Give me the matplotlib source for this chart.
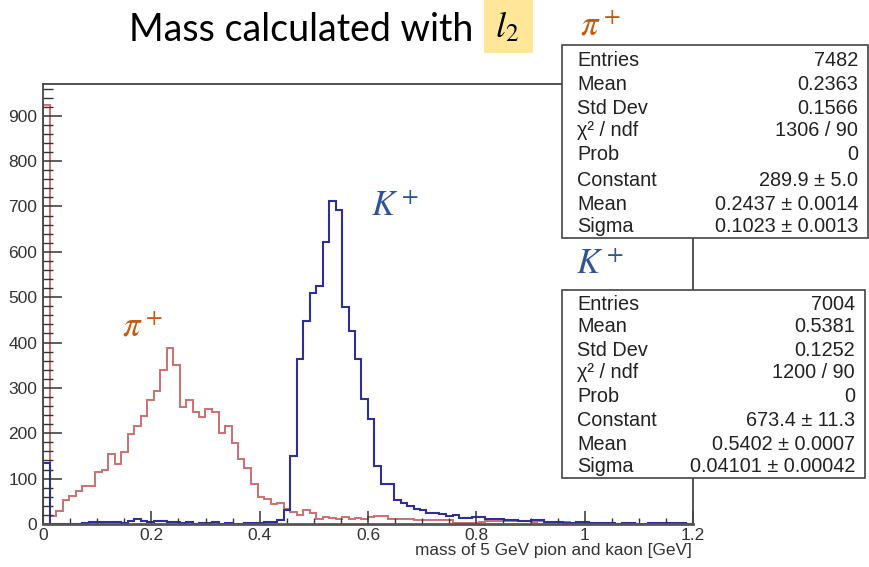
import numpy as np
import matplotlib
matplotlib.use("Agg")
import matplotlib.pyplot as plt
from matplotlib.patches import Rectangle

# ---------------- data ----------------
bin_edges_range = (0.0, 1.2)
n_bins = 100

pion_counts = [
    924, 17, 28, 54, 62, 72, 83, 83, 114, 118,
    155, 132, 158, 199, 215, 239, 274, 294, 340, 387,
    350, 259, 274, 248, 235, 253, 248, 200, 215, 178,
    144, 123, 89, 59, 55, 43, 46, 32, 27, 20,
    31, 24, 12, 15, 14, 12, 15, 12, 13, 12,
    15, 17, 17, 11, 11, 11, 10, 8, 8, 8,
    9, 9, 9, 3, 3, 3, 3, 5, 6, 6,
    6, 6, 7, 6, 6, 5, 6, 5, 4, 4,
    4, 3, 2, 2, 3, 2, 1, 1, 0, 0,
    0, 0, 0, 0, 0, 0, 0, 0, 0, 0,
]

kaon_counts = [
    134, 0, 0, 0, 0, 1, 2, 4, 5, 4,
    5, 5, 3, 7, 10, 7, 5, 7, 7, 5,
    4, 2, 4, 0, 2, 2, 4, 0, 2, 0,
    0, 2, 3, 3, 4, 5, 8, 30, 150, 364,
    447, 509, 524, 621, 712, 693, 478, 426, 364, 276,
    231, 128, 88, 88, 54, 46, 39, 32, 30, 24,
    24, 22, 18, 20, 13, 13, 15, 16, 11, 11,
    10, 8, 8, 7, 6, 9, 9, 5, 5, 4,
    3, 3, 5, 5, 3, 3, 2, 3, 0, 2,
    2, 0, 0, 2, 2, 2, 2, 2, 2, 1,
]

x_tick_values = [0, 0.2, 0.4, 0.6, 0.8, 1.0, 1.2]
x_tick_labels = ["0", "0.2", "0.4", "0.6", "0.8", "1", "1.2"]
y_tick_values = [0, 100, 200, 300, 400, 500, 600, 700, 800, 900]
y_tick_labels = ["0", "100", "200", "300", "400", "500", "600", "700", "800", "900"]
x_label = "mass of 5 GeV pion and kaon [GeV]"
title_text = "Mass calculated with"

stat_labels = ["Entries", "Mean", "Std Dev", "\u03c7\u00b2 / ndf", "Prob", "Constant", "Mean", "Sigma"]
pion_stats = ["7482", "0.2363", "0.1566", "1306 / 90", "0", "289.9 \u00b1 5.0",
              "0.2437 \u00b1 0.0014", "0.1023 \u00b1 0.0013"]
kaon_stats = ["7004", "0.5381", "0.1252", "1200 / 90", "0", "673.4 \u00b1 11.3",
              "0.5402 \u00b1 0.0007", "0.04101 \u00b1 0.00042"]

# ---------------- style ----------------
W, H = 869, 567
plt.rcParams['font.family'] = ['Liberation Sans', 'DejaVu Sans']
plt.rcParams['mathtext.fontset'] = 'stix'

fig = plt.figure(figsize=(W / 100, H / 100), dpi=100)

def fx(x):
    return x / W

def fy(y):
    return 1 - y / H

ax_l, ax_r, ax_t, ax_b = 43, 693, 84, 524
ax = fig.add_axes([fx(ax_l), fy(ax_b), (ax_r - ax_l) / W, (ax_b - ax_t) / H])

edges = np.linspace(bin_edges_range[0], bin_edges_range[1], n_bins + 1)
red = '#cf6f6f'
blue = '#2e2e9c'
ax.stairs(pion_counts, edges, color=red, lw=1.4)
ax.stairs(kaon_counts, edges, color=blue, lw=1.5)

ax.set_xlim(0, 1.2)
ax.set_ylim(0, 970)
ax.set_xticks(x_tick_values)
ax.set_xticklabels(x_tick_labels)
ax.set_yticks(y_tick_values)
ax.set_yticklabels(y_tick_labels)
ax.set_xticks(np.arange(0, 1.2001, 0.05), minor=True)
ax.set_yticks(np.arange(0, 970, 20), minor=True)

tc = '#333333'
ax.tick_params(axis='x', which='major', direction='in', length=9.5, width=1.1,
               color=tc, labelsize=12.5, labelcolor='#333333', pad=3)
ax.tick_params(axis='x', which='minor', direction='in', length=4.5, width=1.0, color=tc)
ax.tick_params(axis='y', which='major', direction='in', length=14, width=1.1,
               color=tc, labelsize=12.5, labelcolor='#333333', pad=4)
ax.tick_params(axis='y', which='minor', direction='in', length=7, width=1.0, color=tc)
for s in ax.spines.values():
    s.set_color('#444444')
    s.set_linewidth(1.3)
ax.spines['bottom'].set_color('#555555')
ax.spines['bottom'].set_linewidth(2.0)

fig.text(fx(692), fy(551), x_label, ha='right', va='center', fontsize=12.4, color='#333333')

# ---------------- title ----------------
fig.text(fx(129), fy(30), title_text, ha='left', va='center', fontsize=27,
         family=['Lato', 'DejaVu Sans'], color='black')
fig.patches.append(Rectangle((fx(484), fy(53)), (533 - 484) / W, 53 / H,
                             transform=fig.transFigure, facecolor='#FFE699',
                             edgecolor='none', zorder=1))
fig.text(fx(507), fy(28), r'$l_2$', ha='center', va='center', fontsize=26, color='black', zorder=2)

# ---------------- particle labels ----------------
orange = '#C55A11'
kblue = '#2F5597'
fig.text(fx(600), fy(26), r'$\pi^+$', ha='center', va='center', fontsize=25, color=orange)
fig.text(fx(142), fy(327), r'$\pi^+$', ha='center', va='center', fontsize=25, color=orange)
fig.text(fx(395), fy(206), r'$K^+$', ha='center', va='center', fontsize=25, color=kblue)
fig.text(fx(600), fy(264), r'$K^+$', ha='center', va='center', fontsize=25, color=kblue)

# ---------------- stat boxes ----------------
def stat_box(x0, y0, x1, y1, rows_y, values, right_x):
    fig.patches.append(Rectangle((fx(x0), fy(y1)), (x1 - x0) / W, (y1 - y0) / H,
                                 transform=fig.transFigure, facecolor='white',
                                 edgecolor='#444444', lw=1.2, zorder=5))
    for lab, val, yy in zip(stat_labels, values, rows_y):
        fig.text(fx(577), fy(yy), lab, ha='left', va='center', fontsize=14.3, color='#222222', zorder=6)
        fig.text(fx(right_x), fy(yy), val, ha='right', va='center', fontsize=14.3, color='#222222', zorder=6)

stat_box(562, 45, 868, 238, [60, 84, 108, 131, 155, 180, 204, 226], pion_stats, 858)
stat_box(562, 290, 865, 478, [304, 327, 350, 373, 396, 420, 444, 466], kaon_stats, 855)

fig.savefig('out.png', dpi=100)
